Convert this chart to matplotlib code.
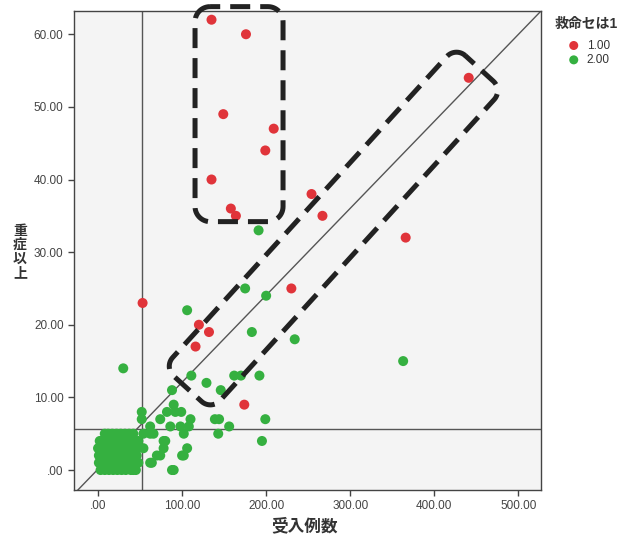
import numpy as np
import matplotlib
matplotlib.use('Agg')
import matplotlib.pyplot as plt

plt.rcParams['font.family'] = ['Liberation Sans', 'Noto Sans CJK JP', 'DejaVu Sans']

# group 1.00 (red)
red_x = [135, 176, 149, 209, 199, 135, 158, 164, 441, 254, 267, 366, 230, 53, 120, 132, 116, 174]
red_y = [62, 60, 49, 47, 44, 40, 36, 35, 54, 38, 35, 32, 25, 23, 20, 19, 17, 9]

# group 2.00 (green)
green_x = [191, 175, 200, 106, 183, 234, 363, 30,
           111, 129, 146, 162, 170, 192,
           88, 90, 52, 52, 139, 144, 156, 143, 199, 195,
           102, 106, 102, 110, 99,
           62, 74, 86, 98, 108, 82, 92,
           54, 66, 78, 62, 80, 78, 100, 70, 74, 62, 64, 88, 54, 46, 42, 90,
           8, 12, 17, 22, 27, 32, 37, 42,
           2, 5, 9, 13, 18, 23, 28, 33, 38, 44, 48,
           0, 4, 8, 12, 17, 22, 27, 32, 37, 42, 47,
           1, 5, 9, 14, 19, 24, 29, 34, 40, 46,
           1, 6, 10, 15, 20, 25, 30, 36, 42, 48,
           3, 8, 13, 18, 23, 28, 33, 39, 45]
green_y = [33, 25, 24, 22, 19, 18, 15, 14,
           13, 12, 11, 13, 13, 13,
           11, 9, 8, 7, 7, 7, 6, 5, 7, 4,
           5, 3, 2, 7, 8,
           6, 7, 6, 6, 6, 8, 8,
           5, 5, 4, 5, 4, 3, 2, 2, 2, 1, 1, 0, 3, 1, 0, 0,
           5, 5, 5, 5, 5, 5, 5, 5,
           4, 4, 4, 4, 4, 4, 4, 4, 4, 4, 4,
           3, 3, 3, 3, 3, 3, 3, 3, 3, 3, 3,
           2, 2, 2, 2, 2, 2, 2, 2, 2, 2,
           1, 1, 1, 1, 1, 1, 1, 1, 1, 1,
           0, 0, 0, 0, 0, 0, 0, 0, 0]

x_ticks = [0, 100, 200, 300, 400, 500]
y_ticks = [0, 10, 20, 30, 40, 50, 60]
x_ref, y_ref = 52, 5.7


def fmt(v):
    s = f'{v:.2f}'
    return s[1:] if s.startswith('0') else s


def dashed_box(ax, p0, p1, hw, rad):
    # rounded rectangle built in pixel space along the p0 -> p1 axis
    trans = ax.transData
    a = trans.transform(p0)
    b = trans.transform(p1)
    d = b - a
    L = np.hypot(*d)
    u = d / L
    n = np.array([-u[1], u[0]])
    corners = [(L - rad, hw - rad, 0, 90), (rad, hw - rad, 90, 180),
               (rad, -hw + rad, 180, 270), (L - rad, -hw + rad, 270, 360)]
    pts = []
    for cs, ct, a0, a1 in corners:
        th = np.radians(np.linspace(a0, a1, 14))
        for t in th:
            s_, t_ = cs + rad * np.cos(t), ct + rad * np.sin(t)
            pts.append(a + s_ * u + t_ * n)
    pts.append(pts[0])
    pts = trans.inverted().transform(np.array(pts))
    ax.plot(pts[:, 0], pts[:, 1], color='#222222', lw=3.6, ls=(0, (4, 2)),
            dash_capstyle='butt', clip_on=False, zorder=6)


fig = plt.figure(figsize=(6.18, 5.46), dpi=100)
ax = fig.add_axes([74 / 618, 56 / 546, 467 / 618, 479 / 546])
ax.set_facecolor('#f4f4f4')
ax.set_xlim(-28.6, 527)
ax.set_ylim(-2.75, 63.2)

ax.axvline(x_ref, color='#555555', lw=1, zorder=1)
ax.axhline(y_ref, color='#555555', lw=1, zorder=1)
ax.plot([-24, 527], [-2.75, 63.2], color='#555555', lw=1, zorder=1)

ax.scatter(green_x, green_y, s=52, color='#35b040', edgecolors='none', zorder=3, label='2.00')
ax.scatter(red_x, red_y, s=52, color='#e0343a', edgecolors='none', zorder=4, label='1.00')

ax.set_xticks(x_ticks)
ax.set_xticklabels([fmt(v) for v in x_ticks])
ax.set_yticks(y_ticks)
ax.set_yticklabels([fmt(v) for v in y_ticks])
ax.tick_params(direction='out', length=4, width=1, colors='#444444', labelsize=8.5)
for sp in ax.spines.values():
    sp.set_color('#444444')
    sp.set_linewidth(1)

dashed_box(ax, (167.75, 34.2), (167.75, 63.8), 44, 15)
dashed_box(ax, (106.5, 11.2), (453.6, 55.3), 32, 13)

fig.text(305 / 618, 1 - 526 / 546, '受入例数', ha='center', va='center',
         fontsize=12, fontweight='bold', color='#333333')
fig.text(20 / 618, 1 - 252 / 546, '重\n症\n以\n上', ha='center', va='center',
         fontsize=10, fontweight='bold', color='#333333', linespacing=1.0)

handles, labels = ax.get_legend_handles_labels()
leg = fig.legend(handles[::-1], labels[::-1], title='救命セは1',
                 loc='upper left', bbox_to_anchor=(546 / 618, 1 - 9 / 546),
                 frameon=False, fontsize=8.5, title_fontsize=10,
                 handletextpad=0.1, labelspacing=0.2, markerscale=0.9,
                 borderpad=0.2)
leg._legend_box.sep = 6
leg.get_title().set_fontweight('bold')
leg.get_title().set_color('#333333')
for t in leg.get_texts():
    t.set_color('#333333')

fig.savefig('out.png', dpi=100)
